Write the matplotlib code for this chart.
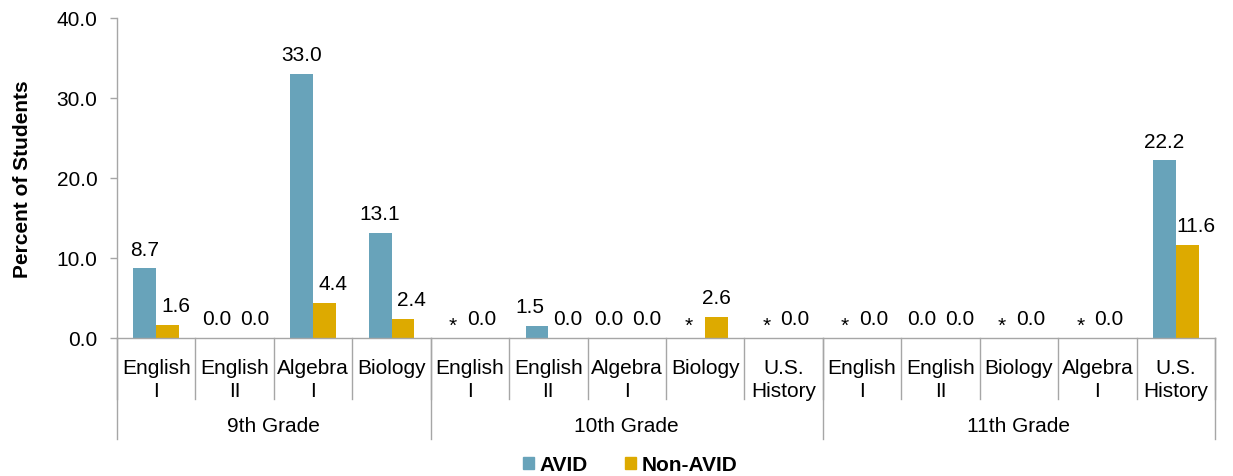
import numpy as np
import matplotlib
matplotlib.use("Agg")
import matplotlib.pyplot as plt
from matplotlib.patches import Patch
from matplotlib.transforms import blended_transform_factory

plt.rcParams["font.family"] = ["Liberation Sans", "DejaVu Sans"]
plt.rcParams["font.size"] = 15

grades = ["9th Grade", "10th Grade", "11th Grade"]
group_sizes = [4, 5, 5]
courses = [
    "English\nI", "English\nII", "Algebra\nI", "Biology",
    "English\nI", "English\nII", "Algebra\nI", "Biology", "U.S.\nHistory",
    "English\nI", "English\nII", "Biology", "Algebra\nI", "U.S.\nHistory",
]
# nan = suppressed value, shown as "*"
avid = [8.7, 0.0, 33.0, 13.1,
        np.nan, 1.5, 0.0, np.nan, np.nan,
        np.nan, 0.0, np.nan, np.nan, 22.2]
non_avid = [1.6, 0.0, 4.4, 2.4,
            0.0, 0.0, 0.0, 2.6, 0.0,
            0.0, 0.0, 0.0, 0.0, 11.6]

c_avid = "#68A3BA"
c_non = "#DDAA00"
gray = "#A6A6A6"

fig = plt.figure(figsize=(12.33, 4.77), dpi=100)
ax = fig.add_axes([117 / 1233, 1 - 339 / 477, 1098 / 1233, 320 / 477])

x = np.arange(len(courses))
w = 0.29
av = np.array(avid)
ax.bar(x - w / 2, np.nan_to_num(av), w, color=c_avid)
ax.bar(x + w / 2, non_avid, w, color=c_non)

# value labels, nudged apart when both sit at similar heights
for i in range(len(courses)):
    if np.isnan(av[i]):
        ax.annotate("*", (x[i] - w / 2, 0), xytext=(-4, 2), textcoords="offset points",
                    ha="center", va="bottom", fontsize=15)
        dx_non = 0
    else:
        dx_av = -5 if abs(av[i] - non_avid[i]) < 3 else 0
        ax.annotate(f"{av[i]:.1f}", (x[i] - w / 2, av[i]), xytext=(dx_av, 7),
                    textcoords="offset points", ha="center", va="bottom")
        dx_non = 6
    ax.annotate(f"{non_avid[i]:.1f}", (x[i] + w / 2, non_avid[i]), xytext=(dx_non, 7),
                textcoords="offset points", ha="center", va="bottom")

ax.set_xlim(-0.5, len(courses) - 0.5)
ax.set_ylim(0, 40)
ax.set_yticks(np.arange(0, 41, 10))
ax.set_yticklabels([f"{t:.1f}" for t in np.arange(0, 41, 10)])
ax.set_xticks([])
ax.tick_params(axis="y", length=5, width=1, color=gray, pad=9)
for s in ["top", "right"]:
    ax.spines[s].set_visible(False)
for s in ["left", "bottom"]:
    ax.spines[s].set_color(gray)
    ax.spines[s].set_linewidth(1)

ax.set_ylabel("Percent of Students", fontweight="bold", labelpad=18)

# two-level category axis
tr = blended_transform_factory(ax.transData, ax.transAxes)
for i, c in enumerate(courses):
    ax.text(x[i], -0.062, c, transform=tr, ha="center", va="top", linespacing=1.3)
for b in np.arange(len(courses) + 1) - 0.5:
    ax.plot([b, b], [0, -0.19], transform=tr, color=gray, lw=1, clip_on=False)

edges = np.concatenate([[0], np.cumsum(group_sizes)]) - 0.5
for g, name in enumerate(grades):
    ax.text((edges[g] + edges[g + 1]) / 2, -0.272, name, transform=tr,
            ha="center", va="center")
for b in edges:
    ax.plot([b, b], [0, -0.316], transform=tr, color=gray, lw=1, clip_on=False)

handles = [Patch(color=c_avid), Patch(color=c_non)]
fig.legend(handles, ["AVID", "Non-AVID"], loc="center",
           bbox_to_anchor=(630 / 1233, 1 - 466 / 477), ncol=2, frameon=False,
           handlelength=0.55, handleheight=0.55, handletextpad=0.25,
           columnspacing=1.8, prop={"weight": "bold", "size": 15})

fig.savefig("out.png", dpi=100)
